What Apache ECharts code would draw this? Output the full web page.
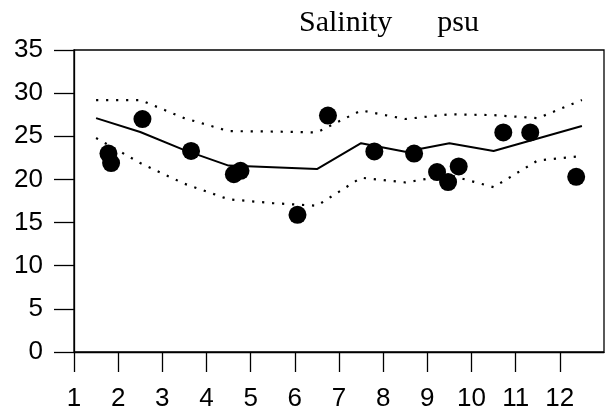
<!DOCTYPE html>
<html>
<head>
<meta charset="utf-8">
<script src="https://cdn.jsdelivr.net/npm/echarts@6/dist/echarts.min.js"></script>
<style>
html,body{margin:0;padding:0;background:#fff;}
#chart{width:606px;height:417px;}
</style>
</head>
<body>
<div id="chart"></div>
<script>
// Tick labels
var xTicks = [1, 2, 3, 4, 5, 6, 7, 8, 9, 10, 11, 12];
// Curve positions (mid-month)
var curveX = [1.5, 2.5, 3.5, 4.5, 5.5, 6.5, 7.5, 8.5, 9.5, 10.5, 11.5, 12.5];
var meanLine = [27.1, 25.5, 23.4, 21.6, 21.4, 21.2, 24.2, 23.2, 24.2, 23.3, 24.75, 26.2];
var upperBand = [29.2, 29.2, 27.1, 25.6, 25.55, 25.45, 28.0, 27.0, 27.55, 27.45, 27.1, 29.2];
var lowerBand = [24.8, 21.9, 19.5, 17.7, 17.25, 16.95, 20.2, 19.65, 20.5, 19.1, 22.2, 22.7];
// Observations
var obsX = [1.78, 1.84, 2.55, 3.65, 4.62, 4.77, 6.06, 6.75, 7.80, 8.70, 9.22, 9.47, 9.71, 10.72, 11.33, 12.37];
var obsY = [23.0, 21.9, 27.0, 23.3, 20.6, 21.0, 15.9, 27.4, 23.25, 23.0, 20.85, 19.7, 21.5, 25.45, 25.45, 20.3];

function pairs(xs, ys) { return xs.map(function (x, i) { return [x, ys[i]]; }); }

var chart = echarts.init(document.getElementById('chart'), null, {renderer: 'canvas'});
var sans = 'Liberation Sans, Arial, sans-serif';
chart.setOption({
  animation: false,
  backgroundColor: '#ffffff',
  title: {
    text: 'Salinity      psu',
    left: 294,
    top: 3,
    textStyle: {fontFamily: 'Liberation Serif, Times New Roman, serif', fontSize: 30, fontWeight: 'normal', color: '#000'}
  },
  grid: {left: 74, right: 2, top: 50, bottom: 65, show: true, borderColor: '#000', borderWidth: 1.3, backgroundColor: 'transparent'},
  xAxis: {
    type: 'value', min: 1, max: 13, interval: 1,
    axisLine: {show: true, onZero: false, lineStyle: {color: '#000', width: 1.3}},
    axisTick: {show: true, inside: false, length: 20, customValues: xTicks, lineStyle: {color: '#000', width: 1.3}},
    axisLabel: {show: true, margin: 34, customValues: xTicks, fontFamily: sans, fontSize: 26, color: '#000'},
    splitLine: {show: false}
  },
  yAxis: {
    type: 'value', min: 0, max: 35, interval: 5,
    axisLine: {show: true, onZero: false, lineStyle: {color: '#000', width: 1.3}},
    axisTick: {show: true, inside: false, length: 20, lineStyle: {color: '#000', width: 1.3}},
    axisLabel: {show: true, margin: 31, fontFamily: sans, fontSize: 26, color: '#000'},
    splitLine: {show: false}
  },
  series: [
    {type: 'line', data: pairs(curveX, upperBand), symbol: 'none', lineStyle: {color: '#000', width: 2.2, type: [2.2, 7.8]}},
    {type: 'line', data: pairs(curveX, lowerBand), symbol: 'none', lineStyle: {color: '#000', width: 2.2, type: [2.2, 7.8]}},
    {type: 'line', data: pairs(curveX, meanLine), symbol: 'none', lineStyle: {color: '#000', width: 2}},
    {type: 'scatter', data: pairs(obsX, obsY), symbol: 'circle', symbolSize: 18, itemStyle: {color: '#000', opacity: 1}}
  ]
});
</script>
</body>
</html>
